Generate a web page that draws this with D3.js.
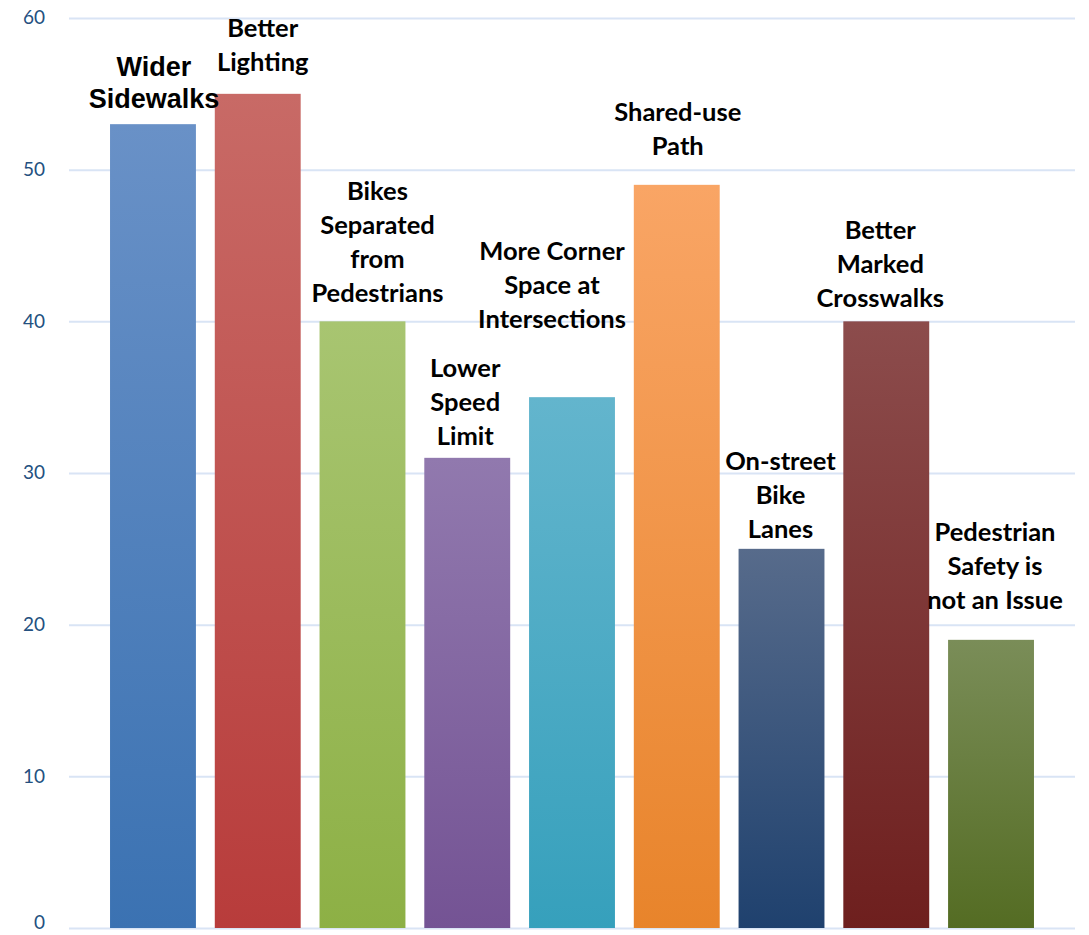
<!DOCTYPE html>
<html>
<head>
<meta charset="utf-8">
<script src="https://cdn.jsdelivr.net/npm/d3@7/dist/d3.min.js"></script>
<style>
  html, body { margin: 0; padding: 0; background: #ffffff; }
  svg { display: block; }
</style>
</head>
<body>
<svg id="chart" width="1089" height="935"></svg>
<script>
// Survey responses: what would improve pedestrian safety
const categories = [
  "Wider Sidewalks",
  "Better Lighting",
  "Bikes Separated from Pedestrians",
  "Lower Speed Limit",
  "More Corner Space at Intersections",
  "Shared-use Path",
  "On-street Bike Lanes",
  "Better Marked Crosswalks",
  "Pedestrian Safety is not an Issue"
];
const values = [53, 55, 40, 31, 35, 49, 25, 40, 19];
const tickValues = [0, 10, 20, 30, 40, 50, 60];

// Label text broken into lines as shown above each bar
const labelLines = [
  ["Wider", "Sidewalks"],
  ["Better", "Lighting"],
  ["Bikes", "Separated", "from", "Pedestrians"],
  ["Lower", "Speed", "Limit"],
  ["More Corner", "Space at", "Intersections"],
  ["Shared-use", "Path"],
  ["On-street", "Bike", "Lanes"],
  ["Better", "Marked", "Crosswalks"],
  ["Pedestrian", "Safety is", "not an Issue"]
];

// Bar fills: [top, bottom] of the vertical gradient
const barGradients = [
  ["#6991c7", "#3b72b2"],
  ["#c86a66", "#b83c3b"],
  ["#a8c571", "#8db045"],
  ["#9179ae", "#745394"],
  ["#63b5cd", "#36a0bc"],
  ["#f9a565", "#e8842b"],
  ["#576b8b", "#1f416e"],
  ["#8c4c4c", "#6e1f1e"],
  ["#7a8d58", "#546c23"]
];

// Label placement: gap above bar top to last baseline, and horizontal nudge
const labelGap = [16, 23, 19, 13, 69, 30, 11, 14, 31];
const labelDx = [1, 5, 15, -2, -20, 1, -1, -6, 4];

const svg = d3.select("#chart");

const x = d3.scaleBand()
  .domain(categories)
  .range([100.6, 1043.4])
  .paddingInner(0.18)
  .paddingOuter(0.09);

const y = d3.scaleLinear()
  .domain([0, 60])
  .range([928, 18]);

// Gridlines and value axis
const gridLeft = 69, gridRight = 1075;
const yAxis = d3.axisLeft(y)
  .tickValues(tickValues)
  .tickSize(-(gridRight - gridLeft))
  .tickPadding(24)
  .tickFormat(d3.format("d"));

const axisG = svg.append("g")
  .attr("transform", `translate(${gridLeft},0)`)
  .call(yAxis);
axisG.select(".domain").remove();
axisG.selectAll(".tick line")
  .attr("stroke", "#d9e4f5")
  .attr("stroke-width", 2);
axisG.selectAll(".tick text")
  .attr("fill", "#24507f")
  .attr("font-family", "Lato, 'Open Sans', sans-serif")
  .attr("font-size", 19)
  // keep the baseline label inside the bottom edge
  .attr("dy", d => d === 0 ? "0.05em" : "0.3em");

// Gradients
const defs = svg.append("defs");
barGradients.forEach((g, i) => {
  const lg = defs.append("linearGradient")
    .attr("id", "barGrad" + i)
    .attr("x1", 0).attr("y1", 0)
    .attr("x2", 0).attr("y2", 1);
  lg.append("stop").attr("offset", "0%").attr("stop-color", g[0]);
  lg.append("stop").attr("offset", "100%").attr("stop-color", g[1]);
});

// Bars
svg.append("g")
  .selectAll("rect")
  .data(values)
  .join("rect")
  .attr("x", (d, i) => x(categories[i]))
  .attr("y", d => y(d))
  .attr("width", x.bandwidth())
  .attr("height", d => y(0) - y(d))
  .attr("fill", (d, i) => `url(#barGrad${i})`);

// Category labels above bars
const labelG = svg.append("g");
values.forEach((v, i) => {
  const lines = labelLines[i];
  const isFirst = i === 0;
  const lineH = isFirst ? 32 : 34;
  const cx = x(categories[i]) + x.bandwidth() / 2 + labelDx[i];
  const lastBase = y(v) - labelGap[i];
  const t = labelG.append("text")
    .attr("text-anchor", "middle")
    .attr("fill", "#000000")
    .attr("font-weight", "bold")
    .attr("font-family", isFirst ? "'Liberation Sans', Arial, sans-serif" : "Lato, 'Open Sans', sans-serif")
    .attr("font-size", isFirst ? 27 : 25.5);
  lines.forEach((ln, k) => {
    t.append("tspan")
      .attr("x", cx)
      .attr("y", lastBase - (lines.length - 1 - k) * lineH)
      .text(ln);
  });
});
</script>
</body>
</html>
